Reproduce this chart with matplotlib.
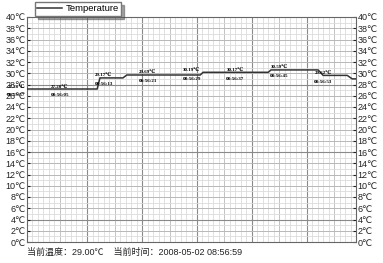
import matplotlib
matplotlib.use("Agg")
import matplotlib.pyplot as plt
import numpy as np

# temperature trace, seconds after 08:56:00
times = [-1, 11.8, 12.3, 16.5, 17.2, 30.6, 31.1, 43.0, 43.5, 52.1, 53.0, 57.4, 58.3, 59]
temps = [27.20, 27.20, 29.17, 29.17, 29.69, 29.69, 30.17, 30.17, 30.59, 30.59, 29.62, 29.62, 29.00, 29.00]

# sample annotations
label_times = [-3, 5, 13, 21, 29, 37, 45, 53]
label_temps = [27.20, 27.20, 29.17, 29.69, 30.19, 30.17, 30.59, 29.62]
label_clock = ["08:55:57", "08:56:05", "08:56:13", "08:56:21",
               "08:56:29", "08:56:37", "08:56:45", "08:56:53"]

y_ticks = list(range(0, 41, 2))
status = "当前温度：29.00℃    当前时间：2008-05-02 08:56:59"

plt.rcParams['font.family'] = ['Liberation Sans', 'DejaVu Sans']

fig = plt.figure(figsize=(3.83, 2.63), dpi=100)
ax = fig.add_axes([27/383, 1-242/263, 329/383, 225/263])
ax.set_xlim(-1, 59)
ax.set_ylim(0, 40)

# graph paper grid
for s in np.arange(-1, 60, 1):
    ax.axvline(s, color='#dcdcdc', lw=0.6, zorder=0)
for s in [5, 15, 25, 35, 45, 55]:
    ax.axvline(s, color='#c4c4c4', lw=0.7, zorder=0)
for s in [10, 20, 30, 40, 50]:
    ax.axvline(s, color='#8a8a8a', lw=0.8, zorder=0)
for t in np.arange(0, 40.1, 1):
    ax.axhline(t, color='#dcdcdc', lw=0.6, zorder=0)
for t in y_ticks:
    ax.axhline(t, color='#b8b8b8', lw=0.7, zorder=0)
for t in [4, 16, 28]:
    ax.axhline(t, color='#8a8a8a', lw=0.8, zorder=0)

line, = ax.plot(times, temps, color='#333333', lw=1.1, label='Temperature', zorder=3)

lab_font = ['Liberation Serif', 'DejaVu Serif', 'DejaVu Sans']
for s, v, c in zip(label_times, label_temps, label_clock):
    ax.annotate(f"{v:.2f}℃", (s, v), xytext=(0, 1.8), textcoords='offset points',
                ha='center', va='center', fontsize=3.6, fontweight='bold',
                family=lab_font, annotation_clip=False, zorder=4)
    ax.annotate(c, (s, v), xytext=(0, -4.6), textcoords='offset points',
                ha='center', va='center', fontsize=3.6, fontweight='bold',
                family=lab_font, annotation_clip=False, zorder=4)

ax.set_yticks(y_ticks)
ax.set_yticklabels([f"{t}℃" for t in y_ticks])
ax.set_xticks([])
ax.tick_params(axis='y', length=2, pad=1, labelsize=6.5, colors='#222222',
               left=True, right=True, labelleft=True, labelright=True,
               direction='in')
for sp in ax.spines.values():
    sp.set_color('#666666')
    sp.set_linewidth(0.8)

fig.legend(handles=[line], loc='upper left', bbox_to_anchor=(35/383, 1-2/263),
           borderaxespad=0, fontsize=6.8, fancybox=False, shadow=True,
           edgecolor='#777777', framealpha=1, handlelength=2.6,
           handletextpad=0.4, borderpad=0.25)

fig.text(27/383, 1-252/263, status, fontsize=6.5, va='center', ha='left',
         family=['Liberation Sans', 'Noto Sans CJK SC', 'DejaVu Sans'], color='#222222')

fig.savefig("out.png", dpi=100)
